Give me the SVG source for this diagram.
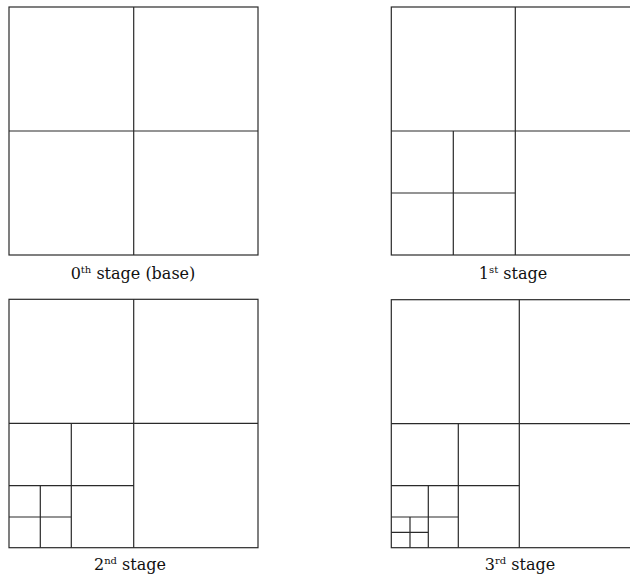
<svg xmlns="http://www.w3.org/2000/svg" width="630" height="576" viewBox="0 0 630 576">
<style>
.g{fill:none;stroke:#2a2a2a;stroke-width:1.2}
.t{font-family:'DejaVu Serif','Liberation Serif',serif;font-size:16px;fill:#111;text-anchor:middle}
.s{font-size:10px}
</style>
<rect width="630" height="576" fill="#fff"/>
<g id="stage0">
<rect class="g" x="9" y="7" width="249" height="248"/>
<path class="g" d="M133.7 7V255M9 131H258"/>
<text class="t" x="133" y="279">0<tspan class="s" dy="-6">th</tspan><tspan dy="6"> stage (base)</tspan></text>
</g>
<g id="stage1">
<rect class="g" x="391.3" y="7" width="249" height="248"/>
<path class="g" d="M515.3 7V255M391.3 131H640M453.3 131V255M391.3 193H515.3"/>
<text class="t" x="513" y="279">1<tspan class="s" dy="-6">st</tspan><tspan dy="6"> stage</tspan></text>
</g>
<g id="stage2">
<rect class="g" x="9" y="299.3" width="249" height="248.4"/>
<path class="g" d="M133.7 299.3V547.7M9 423.3H258M71.3 423.3V547.7M9 485.7H133.7M40.3 485.7V547.7M9 517H71.3"/>
<text class="t" x="130" y="570">2<tspan class="s" dy="-6">nd</tspan><tspan dy="6"> stage</tspan></text>
</g>
<g id="stage3">
<rect class="g" x="391.3" y="299.7" width="256" height="248"/>
<path class="g" d="M519.3 299.7V547.7M391.3 423.7H640M458.3 423.7V547.7M391.3 485.7H519.3M428.3 485.7V547.7M391.3 517H458.3M410 517V547.7M391.3 532.3H428.3"/>
<text class="t" x="520" y="570">3<tspan class="s" dy="-6">rd</tspan><tspan dy="6"> stage</tspan></text>
</g>
</svg>
